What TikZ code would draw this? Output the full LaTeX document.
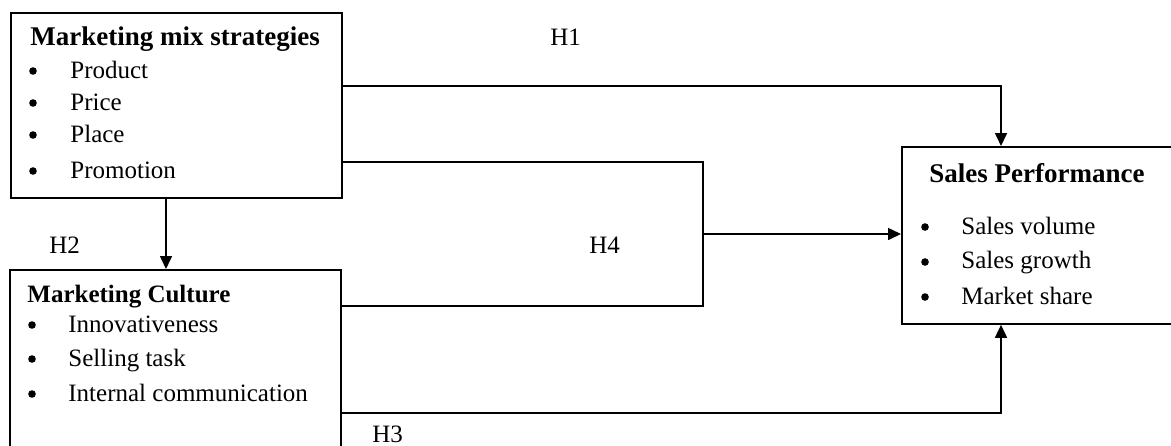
\documentclass[tikz,border=0pt]{standalone}
\usepackage{fontspec}
\setmainfont{Liberation Serif}
\usetikzlibrary{arrows.meta}
\tikzset{
  box/.style={draw, line width=0.9pt, rectangle, inner sep=0pt, anchor=north west},
  conn/.style={line width=0.8pt},
  arr/.style={conn, -{Triangle[length=6.5pt,width=6pt]}},
  dot/.style={circle, fill, draw=none, inner sep=0pt, minimum size=3.8pt},
  txt/.style={inner sep=0pt, anchor=base west, font=\fontsize{12.5}{15}\selectfont},
  head/.style={txt, font=\fontsize{12.5}{15}\selectfont\bfseries},
  bighead/.style={txt, font=\fontsize{13.5}{16}\selectfont\bfseries},
}
\begin{document}
\begin{tikzpicture}[x=0.5pt,y=-0.5pt]
\useasboundingbox (0,0) rectangle (1171,445);
% boxes
\node[box, minimum width=165.5pt, minimum height=92.5pt] (A) at (10,12) {};
\node[box, minimum width=165.5pt, minimum height=100pt] (B) at (9,269) {};
\node[box, minimum width=150pt, minimum height=88.5pt] (C) at (901,146) {};
% box A text
\node[bighead] (At) at (30,45) {Marketing mix strategies};
\node[dot] (Ab1) at (33,71) {}; \node[txt] (Ai1) at (70,78) {Product};
\node[dot] (Ab2) at (33,103) {}; \node[txt] (Ai2) at (70,110) {Price};
\node[dot] (Ab3) at (33,135) {}; \node[txt] (Ai3) at (70,142) {Place};
\node[dot] (Ab4) at (33,171) {}; \node[txt] (Ai4) at (70,178) {Promotion};
% box B text
\node[head] (Bt) at (27,302) {Marketing Culture};
\node[dot] (Bb1) at (32,325) {}; \node[txt] (Bi1) at (68,332) {Innovativeness};
\node[dot] (Bb2) at (32,359) {}; \node[txt] (Bi2) at (68,366) {Selling task};
\node[dot] (Bb3) at (32,394) {}; \node[txt] (Bi3) at (68,401) {Internal communication};
% box C text
\node[bighead] (Ct) at (929,182) {Sales Performance};
\node[dot] (Cb1) at (925,227) {}; \node[txt] (Ci1) at (961,234) {Sales volume};
\node[dot] (Cb2) at (925,262) {}; \node[txt] (Ci2) at (961,268) {Sales growth};
\node[dot] (Cb3) at (925,297) {}; \node[txt] (Ci3) at (961,304) {Market share};
% labels
\node[txt] (H1) at (550,45) {H1};
\node[txt] (H2) at (49,253) {H2};
\node[txt] (H3) at (372,442) {H3};
\node[txt] (H4) at (589,253) {H4};
% connectors
\coordinate (j) at (703,234);
\draw[arr] (A.east |- 0,86) -| ([xshift=50pt]C.north west);
\draw[conn] (A.east |- 0,162) -| (j);
\draw[conn] (B.east |- 0,306) -| (j);
\draw[arr] (j) -- (C.west |- j);
\draw[arr] (A.south -| 166,0) -- (B.north -| 166,0);
\draw[arr] (B.east |- 0,413) -| ([xshift=50pt]C.south west);
\end{tikzpicture}
\end{document}
